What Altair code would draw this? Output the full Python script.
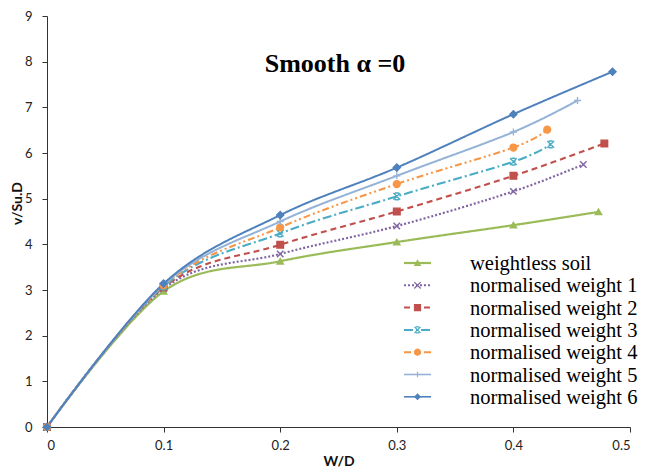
import altair as alt
import pandas as pd

# ---------------- data ----------------
series_names = [
    "weightless soil",
    "normalised weight 1",
    "normalised weight 2",
    "normalised weight 3",
    "normalised weight 4",
    "normalised weight 5",
    "normalised weight 6",
]
x_common = [0, 0.1, 0.2, 0.3, 0.4]
y_weightless = [0, 2.97, 3.63, 4.05, 4.42]
y_w1 = [0, 3.03, 3.79, 4.40, 5.16]
y_w2 = [0, 3.06, 3.99, 4.72, 5.50]
y_w3 = [0, 3.08, 4.24, 5.05, 5.81]
y_w4 = [0, 3.10, 4.37, 5.32, 6.12]
y_w5 = [0, 3.12, 4.50, 5.50, 6.46]
y_w6 = [0, 3.14, 4.64, 5.68, 6.85]
x_end = [0.473, 0.460, 0.478, 0.432, 0.429, 0.455, 0.485]
y_end = [4.71, 5.75, 6.21, 6.19, 6.51, 7.15, 7.78]

all_y = [y_weightless, y_w1, y_w2, y_w3, y_w4, y_w5, y_w6]

# ---------------- styles ----------------
colors = ["#9BBB59", "#8064A2", "#C0504D", "#4BACC6", "#F79646", "#95B3D7", "#4F81BD"]
dashes = [[1, 0], [2, 2], [6, 4], [9, 3, 2, 3], [7, 3, 2, 3, 2, 3], [1, 0], [1, 0]]
widths = [2.2, 2, 2, 2, 2, 1.6, 1.6]
X_PATH = "M-1,-1L1,1M-1,1L1,-1"
STAR_PATH = "M-1,-1L1,1M-1,1L1,-1M-0.6,-1L0.6,-1M-0.6,1L0.6,1"
PLUS_PATH = "M0,-1L0,1M-1,0L1,0"
shapes = ["triangle-up", X_PATH, "square", STAR_PATH, "circle", PLUS_PATH, "diamond"]
sizes = [40, 50, 45, 45, 45, 40, 35]

rows = []
for name, ys, xe, ye in zip(series_names, all_y, x_end, y_end):
    for i, (xv, yv) in enumerate(zip(x_common + [xe], ys + [ye])):
        rows.append({"series": name, "x": xv, "y": yv, "order": i})
df = pd.DataFrame(rows)

W, H = 583, 411

color_scale = alt.Scale(domain=series_names, range=colors)
x_enc = alt.X(
    "x:Q",
    scale=alt.Scale(domain=[0, 0.5], nice=False, zero=False),
    axis=alt.Axis(
        values=[0, 0.1, 0.2, 0.3, 0.4, 0.5], format="~g", title="W/D",
        titleY=38, titleBaseline="alphabetic", labelPadding=7,
    ),
)
y_enc = alt.Y(
    "y:Q",
    scale=alt.Scale(domain=[0, 9], nice=False),
    axis=alt.Axis(
        values=list(range(0, 10)), title="v/Su.D", titleX=-30, titleY=187,
        titleAngle=-90, titleAlign="center", titleBaseline="middle", labelPadding=10,
    ),
)

lines = alt.Chart(df).mark_line(interpolate="cardinal").encode(
    x=x_enc,
    y=y_enc,
    color=alt.Color("series:N", scale=color_scale, legend=None),
    strokeDash=alt.StrokeDash("series:N", scale=alt.Scale(domain=series_names, range=dashes), legend=None),
    strokeWidth=alt.StrokeWidth("series:N", scale=alt.Scale(domain=series_names, range=widths), legend=None),
    order="order:Q",
)

points = alt.Chart(df).mark_point(filled=True, opacity=1, strokeWidth=1.4).encode(
    x="x:Q",
    y="y:Q",
    fill=alt.Fill("series:N", scale=color_scale, legend=None),
    stroke=alt.Stroke("series:N", scale=color_scale, legend=None),
    shape=alt.Shape("series:N", scale=alt.Scale(domain=series_names, range=shapes), legend=None),
    size=alt.Size("series:N", scale=alt.Scale(domain=series_names, range=sizes), legend=None),
)

title = alt.Chart(pd.DataFrame({"t": ["Smooth  \u03b1 =0"]})).mark_text(
    font="Liberation Serif", fontSize=26, fontWeight="bold", color="#000000",
    align="center", baseline="alphabetic",
).encode(x=alt.value(288), y=alt.value(56), text="t:N")

# ---------------- manual legend (Excel style: line + marker) ----------------
legend_layers = []
leg_top, leg_step = 247, 22.3
for i, name in enumerate(series_names):
    yy = leg_top + i * leg_step
    one = alt.Chart(pd.DataFrame({"series": [name]}))
    rule_kwargs = dict(color=colors[i], strokeWidth=widths[i])
    if dashes[i] != [1, 0]:
        rule_kwargs["strokeDash"] = dashes[i]
    legend_layers.append(one.mark_rule(**rule_kwargs).encode(
        x=alt.value(357), x2=alt.value(384), y=alt.value(yy)))
    legend_layers.append(one.mark_point(
        shape=shapes[i], filled=True, fill=colors[i], stroke=colors[i],
        strokeWidth=1.2, opacity=1, size=sizes[i] * 0.8,
    ).encode(x=alt.value(370.5), y=alt.value(yy)))
    legend_layers.append(one.mark_text(
        font="Liberation Serif", fontSize=20.5, color="#000000",
        align="left", baseline="middle",
    ).encode(x=alt.value(423), y=alt.value(yy + 1), text="series:N"))

chart = alt.layer(lines, points, title, *legend_layers).properties(
    width=W, height=H,
    autosize=alt.AutoSizeParams(type="none"),
    padding={"left": 39, "top": 8, "right": 9, "bottom": 41},
).configure_view(stroke=None).configure_axis(
    grid=False,
    domainColor="#333333",
    tickColor="#333333",
    tickSize=5,
    labelFont="Lato",
    labelFontSize=13,
    labelColor="#222222",
    titleFont="Lato",
    titleFontSize=14,
    titleFontWeight="bold",
    titleColor="#111111",
)

chart.save("out.html", embed_options={"renderer": "svg", "actions": False})
